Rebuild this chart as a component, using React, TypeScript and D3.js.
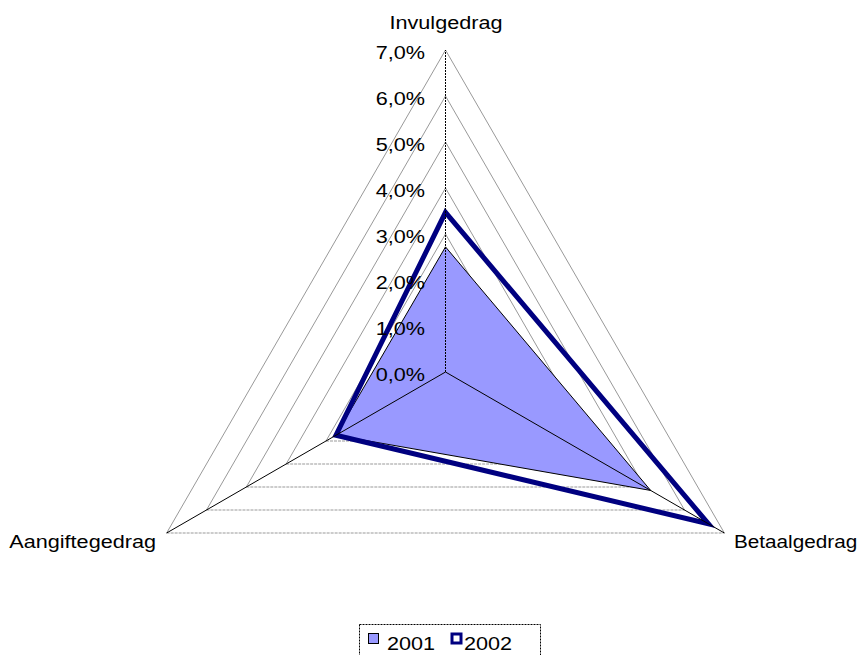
import React from "react";
import * as d3 from "d3";

const axes = ["Invulgedrag", "Betaalgedrag", "Aangiftegedrag"];
const series2001 = [2.72, 5.15, 2.75];
const series2002 = [3.47, 6.6, 2.75];
const ticks = [0, 1, 2, 3, 4, 5, 6, 7];
const legendLabels = ["2001", "2002"];

const W = 863;
const H = 655;
const cx = 445.5;
const cy = 372;
const angles = [-90, 30, 150].map((d) => (d * Math.PI) / 180);
const FONT = "'Liberation Sans', Arial, sans-serif";
const FS = 18.5;
const SX = 1.17;

const r = d3.scaleLinear().domain([0, 7]).range([0, 322]);
const pt = (i: number, v: number): [number, number] => [
  cx + r(v) * Math.cos(angles[i]),
  cy + r(v) * Math.sin(angles[i]),
];
const line = d3.line<[number, number]>().curve(d3.curveLinearClosed);
const fmt = (v: number) => d3.format(".1f")(v).replace(".", ",") + "%";

function Label({
  x,
  y,
  anchor,
  sx = SX,
  children,
}: {
  x: number;
  y: number;
  anchor: string;
  sx?: number;
  children: React.ReactNode;
}) {
  return (
    <text
      transform={`translate(${x},${y}) scale(${sx},1)`}
      textAnchor={anchor}
      fontFamily={FONT}
      fontSize={FS}
      fill="#000"
    >
      {children}
    </text>
  );
}

export default function App() {
  const grid = ticks.filter((t) => t > 0);
  return (
    <svg width={W} height={H} style={{ position: "absolute", left: 0, top: 0, background: "#fff" }}>
      {/* grid triangles: sloped edges solid, bottom edge dashed */}
      {grid.map((t) => {
        const a = pt(0, t);
        const b = pt(1, t);
        const c = pt(2, t);
        return (
          <g key={t}>
            <line x1={a[0]} y1={a[1]} x2={b[0]} y2={b[1]} stroke="#999" strokeWidth={1} />
            <line x1={a[0]} y1={a[1]} x2={c[0]} y2={c[1]} stroke="#999" strokeWidth={1} />
            <line x1={c[0]} y1={c[1]} x2={b[0]} y2={b[1]} stroke="#999" strokeWidth={1} strokeDasharray="3,1" />
          </g>
        );
      })}

      {/* 2001 area */}
      <path
        d={line(series2001.map((v, i) => pt(i, v))) || ""}
        fill="#9999FF"
        stroke="#000"
        strokeWidth={1}
      />

      {/* 2002 outline */}
      <path
        d={line(series2002.map((v, i) => pt(i, v))) || ""}
        fill="none"
        stroke="#000080"
        strokeWidth={5}
        strokeLinejoin="miter"
      />

      {/* spokes */}
      {axes.map((_, i) => {
        const e = pt(i, 7);
        return (
          <line
            key={i}
            x1={cx}
            y1={cy}
            x2={e[0]}
            y2={e[1]}
            stroke="#000"
            strokeWidth={1}
            strokeDasharray={i === 0 ? "2,1" : undefined}
          />
        );
      })}

      {/* value labels on vertical axis */}
      {ticks.map((t) => (
        <Label key={t} x={425} y={pt(0, t)[1] + 9} anchor="end">
          {fmt(t)}
        </Label>
      ))}

      {/* category labels */}
      <Label x={446} y={29} anchor="middle">{axes[0]}</Label>
      <Label x={734} y={548} anchor="start" sx={1.12}>{axes[1]}</Label>
      <Label x={156} y={548} anchor="end">{axes[2]}</Label>

      {/* legend */}
      <rect x={359.5} y={624.5} width={181} height={45} fill="#fff" stroke="#000" strokeWidth={1} strokeDasharray="2,1" />
      <rect x={368.5} y={633.5} width={10} height={10} fill="#9999FF" stroke="#000" strokeWidth={1} />
      <Label x={387} y={650} anchor="start">{legendLabels[0]}</Label>
      <rect x={452} y={634} width={9} height={9} fill="#fff" stroke="#000080" strokeWidth={3} />
      <Label x={464} y={650} anchor="start">{legendLabels[1]}</Label>
    </svg>
  );
}
